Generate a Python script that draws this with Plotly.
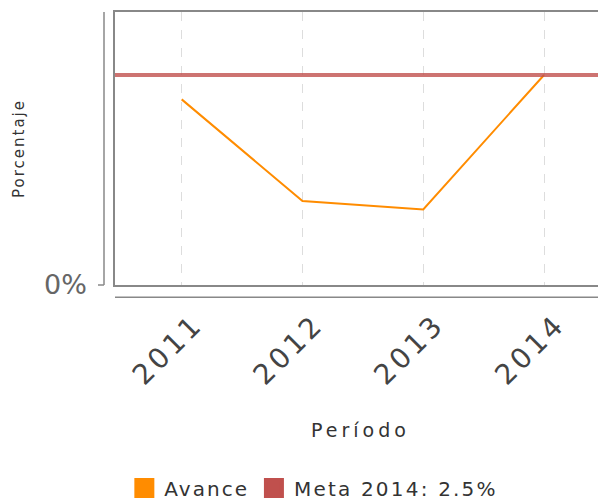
import plotly.graph_objects as go

# ---- data ----
periodos = ["2011", "2012", "2013", "2014"]
avance = [2.21, 1.0, 0.9, 2.5]
meta_valor = 2.5
serie_nombre = "Avance"
meta_nombre = "Meta 2014: 2.5%"
y_tickvals = [0]
y_ticktext = ["0%"]
x_titulo = "Período"
y_titulo = "Porcentaje"

ORANGE = "#ff8c00"
RED = "#c0504d"
FONT = "DejaVu Sans"


def spaced(t, px):
    return f'<span style="letter-spacing:{px}px">{t}</span>'


fig = go.Figure()

fig.add_trace(go.Scatter(
    x=periodos, y=avance, mode="lines", name=serie_nombre,
    line=dict(color=ORANGE, width=2), showlegend=False, hoverinfo="x+y"))

# legend swatches (squares)
fig.add_trace(go.Scatter(
    x=[None], y=[None], mode="markers", name=spaced(serie_nombre, 2),
    marker=dict(symbol="square", size=16, color=ORANGE,
                line=dict(color=ORANGE, width=4))))
fig.add_trace(go.Scatter(
    x=[None], y=[None], mode="markers", name=spaced(meta_nombre, 2.2),
    marker=dict(symbol="square", size=16, color=RED,
                line=dict(color=RED, width=4))))

# meta line across the whole plot
fig.add_shape(type="line", xref="paper", x0=0, x1=1, yref="y",
              y0=meta_valor, y1=meta_valor,
              line=dict(color="rgba(192,80,77,0.8)", width=4))

# detached axis lines (left and bottom)
fig.add_shape(type="line", xref="paper", yref="paper", x0=-0.0224, x1=-0.0224,
              y0=0, y1=1, line=dict(color="#888", width=1.5))
fig.add_shape(type="line", xref="paper", yref="paper", x0=-0.0346, x1=-0.0224,
              y0=0, y1=0, line=dict(color="#888", width=1.5))
fig.add_shape(type="line", xref="paper", yref="paper", x0=0, x1=1,
              y0=-0.045, y1=-0.045, line=dict(color="#888", width=1.5))

fig.update_layout(
    width=606, height=503,
    margin=dict(l=107, r=8, t=4, b=222),
    paper_bgcolor="white", plot_bgcolor="white",
    font=dict(family=FONT, color="#444"),
    showlegend=True,
    legend=dict(orientation="h", x=0.405, xanchor="center", y=-0.744,
                yanchor="middle", font=dict(size=20, color="#333"),
                itemwidth=30),
    xaxis=dict(
        type="category", range=[-0.552, 3.513],
        tickmode="array", tickvals=periodos,
        ticktext=[spaced(p, 3.5) for p in periodos],
        tickangle=-45, tickfont=dict(size=28, color="#444"),
        ticks="", ticklabelstandoff=10, ticklabelshift=13,
        showgrid=True, gridcolor="#dddddd", griddash="dash", gridwidth=1,
        showline=True, linecolor="#888", linewidth=1.5, mirror=True,
        zeroline=False, automargin=False,
        title=dict(text=spaced(x_titulo, 4), font=dict(size=19, color="#333"),
                   standoff=33),
    ),
    yaxis=dict(
        range=[0, 3.25], tickmode="array", tickvals=y_tickvals,
        ticktext=y_ticktext, tickfont=dict(size=27, color="#666"),
        ticks="", ticklabelstandoff=21,
        showgrid=False, zeroline=False,
        showline=True, linecolor="#888", linewidth=1.5, mirror=True,
        automargin=False,
        title=dict(text=spaced(y_titulo, 2), font=dict(size=15, color="#333"),
                   standoff=16),
    ),
)

fig.write_html("out.html")
